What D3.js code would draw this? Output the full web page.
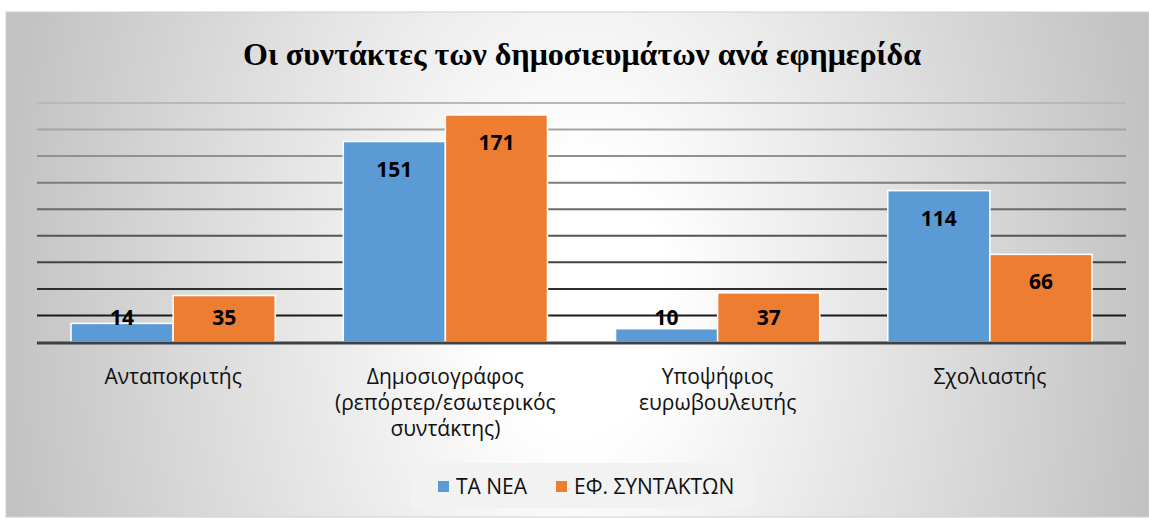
<!DOCTYPE html>
<html>
<head>
<meta charset="utf-8">
<script src="https://cdn.jsdelivr.net/npm/d3@7"></script>
<style>
  body { margin: 0; background: #fff; }
  text { font-family: "Open Sans", "Noto Sans", sans-serif; }
</style>
</head>
<body>
<div id="chart"></div>
<script>
// data
var categories = [
  ["Ανταποκριτής"],
  ["Δημοσιογράφος", "(ρεπόρτερ/εσωτερικός", "συντάκτης)"],
  ["Υποψήφιος", "ευρωβουλευτής"],
  ["Σχολιαστής"]
];
var seriesNames = ["ΤΑ ΝΕΑ", "ΕΦ. ΣΥΝΤΑΚΤΩΝ"];
var taNea = [14, 151, 10, 114];
var efSyn = [35, 171, 37, 66];
var gridTicks = [20, 40, 60, 80, 100, 120, 140, 160, 180];
var colors = ["#5b9bd5", "#ed7d31"];

var W = 1149, H = 518;
var plot = {left: 37, right: 1126, top: 103, bottom: 342};

var svg = d3.select("#chart").append("svg")
  .attr("width", W)
  .attr("height", H);

// background: grey at the sides, white down the middle
var defs = svg.append("defs");
var grad = defs.append("radialGradient")
  .attr("id", "bg")
  .attr("gradientUnits", "userSpaceOnUse")
  .attr("cx", 0).attr("cy", 0).attr("r", 1)
  .attr("gradientTransform", "translate(578,300) scale(580,900)");
grad.append("stop").attr("offset", "0%").attr("stop-color", "#ffffff");
grad.append("stop").attr("offset", "15%").attr("stop-color", "#ffffff");
grad.append("stop").attr("offset", "100%").attr("stop-color", "#c2c2c2");

svg.append("rect")
  .attr("x", 6).attr("y", 12)
  .attr("width", W - 6).attr("height", 505)
  .attr("fill", "url(#bg)")
  .attr("stroke", "#cfcfcf");

// title
svg.append("text")
  .attr("x", 582).attr("y", 65)
  .attr("text-anchor", "middle")
  .style("font-family", "'Liberation Serif', 'Times New Roman', serif")
  .style("font-weight", "bold")
  .style("font-size", "32px")
  .text("Οι συντάκτες των δημοσιευμάτων ανά εφημερίδα");

var y = d3.scaleLinear().domain([0, 180]).range([plot.bottom, plot.top]);
var x0 = d3.scaleBand().domain(d3.range(categories.length))
  .range([plot.left, plot.right]).paddingInner(0.25).paddingOuter(0.125);
var x1 = d3.scaleBand().domain([0, 1]).range([0, x0.bandwidth()]);

// gridlines, darker towards the bottom
var gridColor = d3.scaleLinear().domain([180, 20]).range(["#b8b8b8", "#1a1a1a"]);
svg.append("g").selectAll("line")
  .data(gridTicks)
  .enter().append("line")
  .attr("x1", plot.left).attr("x2", plot.right)
  .attr("y1", function(d) { return y(d); })
  .attr("y2", function(d) { return y(d); })
  .attr("stroke", function(d) { return gridColor(d); })
  .attr("stroke-width", 2);

// bars
var rows = categories.map(function(c, i) { return [taNea[i], efSyn[i]]; });
var groups = svg.append("g").selectAll("g")
  .data(rows)
  .enter().append("g")
  .attr("transform", function(d, i) { return "translate(" + x0(i) + ",0)"; });

groups.selectAll("rect")
  .data(function(d) { return d; })
  .enter().append("rect")
  .attr("x", function(d, j) { return x1(j); })
  .attr("y", function(d) { return y(d); })
  .attr("width", x1.bandwidth())
  .attr("height", function(d) { return y(0) - y(d); })
  .attr("fill", function(d, j) { return colors[j]; })
  .attr("stroke", "#fff")
  .attr("stroke-width", 1.5);

groups.selectAll("text")
  .data(function(d) { return d; })
  .enter().append("text")
  .attr("x", function(d, j) { return x1(j) + x1.bandwidth() / 2; })
  .attr("y", function(d) { return Math.min(y(d) + 35, y(0) - 17); })
  .attr("text-anchor", "middle")
  .style("font-weight", "bold")
  .style("font-size", "21px")
  .attr("fill", "#000")
  .text(function(d) { return d; });

// axis line
svg.append("line")
  .attr("x1", plot.left).attr("x2", plot.right)
  .attr("y1", y(0) + 1).attr("y2", y(0) + 1)
  .attr("stroke", "#404040")
  .attr("stroke-width", 3);

// category labels
svg.append("g").selectAll("text")
  .data(categories)
  .enter().append("text")
  .attr("x", function(d, i) { return x0(i) + x0.bandwidth() / 2; })
  .attr("y", 384)
  .attr("text-anchor", "middle")
  .style("font-size", "21px")
  .attr("fill", "#111")
  .each(function(d) {
    var t = d3.select(this);
    d.forEach(function(line, k) {
      t.append("tspan")
        .attr("x", t.attr("x"))
        .attr("dy", k === 0 ? 0 : 26)
        .text(line);
    });
  });

// legend
var lg = svg.append("g");
lg.append("rect")
  .attr("x", 410).attr("y", 463)
  .attr("width", 343).attr("height", 45)
  .attr("fill", "#f2f2f2");
var legX = [438, 556];
seriesNames.forEach(function(name, i) {
  lg.append("rect")
    .attr("x", legX[i]).attr("y", 481)
    .attr("width", 11).attr("height", 11)
    .attr("fill", colors[i]);
  lg.append("text")
    .attr("x", legX[i] + 18).attr("y", 494)
    .style("font-size", "21px")
    .attr("fill", "#111")
    .text(name);
});
</script>
</body>
</html>
